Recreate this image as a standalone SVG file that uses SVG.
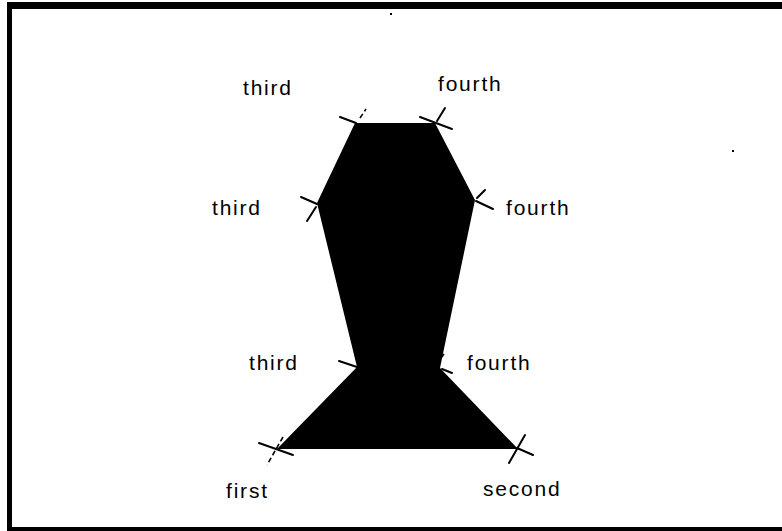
<svg xmlns="http://www.w3.org/2000/svg" width="782" height="531" viewBox="0 0 782 531">
<style>
.lbl{font-family:"Liberation Sans",Arial,sans-serif;font-size:21px;letter-spacing:1.8px;fill:#000}
.tick{stroke:#000;stroke-width:2;fill:none;stroke-linecap:round}
.dash{stroke:#000;stroke-width:1.6;fill:none;stroke-dasharray:5 3}
</style>
<rect width="782" height="531" fill="#fff"/>
<g id="frame" fill="#000">
<rect x="7" y="2" width="775" height="7"/>
<rect x="7" y="2" width="5" height="529"/>
<rect x="7" y="527" width="775" height="4"/>
<rect x="390" y="13" width="2" height="2"/>
<rect x="732" y="150" width="2" height="2"/>
</g>
<g id="shape">
<polygon points="355,123 435,123 475,200 440,368 518,449 277,449 357,367 317,203" fill="#000"/>
</g>
<g id="connectors">
<line class="tick" x1="340" y1="117" x2="356" y2="123"/>
<line class="dash" x1="360" y1="118" x2="366" y2="109"/>
<line class="tick" x1="420" y1="117" x2="452" y2="129"/>
<line class="tick" x1="437" y1="121" x2="445" y2="108"/>
<line class="tick" x1="301" y1="197" x2="317" y2="204"/>
<line class="tick" x1="316" y1="207" x2="307" y2="221"/>
<line class="tick" x1="477" y1="198" x2="485" y2="190"/>
<line class="tick" x1="476" y1="201" x2="493" y2="209"/>
<line class="tick" x1="339" y1="361" x2="357" y2="367"/>
<line class="dash" x1="441" y1="358" x2="444" y2="354"/>
<line class="tick" x1="442" y1="369" x2="452" y2="373"/>
<line class="tick" x1="259" y1="443" x2="293" y2="455"/>
<line class="dash" x1="283" y1="437" x2="267" y2="465"/>
<line class="tick" x1="525" y1="435" x2="509" y2="463"/>
<line class="tick" x1="517" y1="448" x2="533" y2="455"/>
</g>
<g id="labels">
<text class="lbl" x="243" y="95">third</text>
<text class="lbl" x="438" y="91">fourth</text>
<text class="lbl" x="212" y="215">third</text>
<text class="lbl" x="506" y="215">fourth</text>
<text class="lbl" x="249" y="370">third</text>
<text class="lbl" x="467" y="370">fourth</text>
<text class="lbl" x="226" y="498">first</text>
<text class="lbl" x="483" y="496">second</text>
</g>
</svg>
